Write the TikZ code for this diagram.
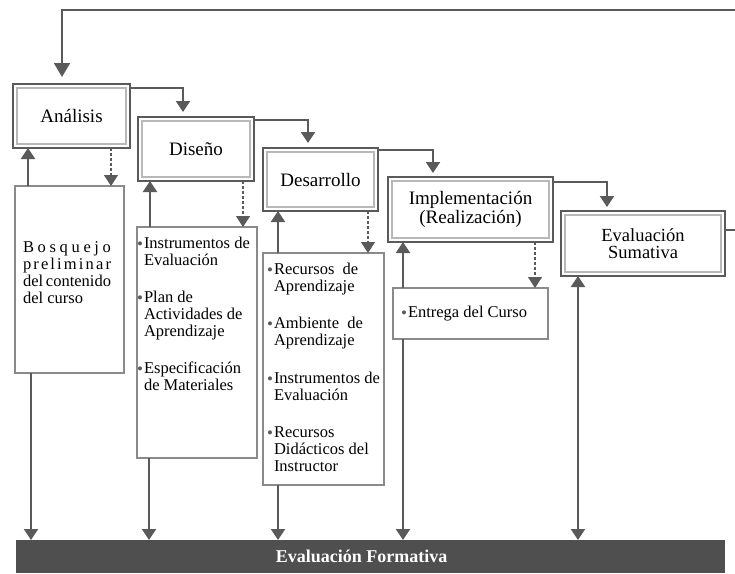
\documentclass[tikz,border=0pt]{standalone}
\usepackage{fontspec}
\setmainfont{Liberation Serif}
\usetikzlibrary{arrows.meta}
\definecolor{linegray}{HTML}{5A5A5A}
\definecolor{bargray}{HTML}{4F4F4F}
\definecolor{innergray}{HTML}{B8B8B8}
\definecolor{boxgray}{HTML}{8A8A8A}
\newcommand{\bul}{\makebox[7pt][l]{\textcolor{linegray}{\fontsize{17}{17}\selectfont\raisebox{-1.3pt}{•}}}}
\newcommand{\cont}{\hspace*{7pt}}
\begin{document}
\begin{tikzpicture}[x=1pt,y=-1pt,
    flow/.style={draw=linegray,line width=2pt},
    dots/.style={draw=linegray,line width=1.2pt,dash pattern=on 3pt off 2pt},
    tip/.style={-{Triangle[width=14pt,length=11pt]}},
    both/.style={{Triangle[width=14pt,length=11pt]}-{Triangle[width=14pt,length=11pt]}},
    stage/.style={draw=linegray,line width=2pt,fill=white,inner sep=0pt,outer sep=0pt,anchor=north west,align=center,
        font=\fontsize{19}{19}\selectfont,
        path picture={\draw[innergray,line width=1.5pt] ([shift={(4pt,-4pt)}]path picture bounding box.north west) rectangle ([shift={(-4pt,4pt)}]path picture bounding box.south east);}},
    list/.style={draw=boxgray,line width=1.2pt,fill=white,inner sep=0pt,outer sep=0pt,anchor=north west,font=\fontsize{16.5}{17}\selectfont},
    bar/.style={fill=bargray,text=white,inner sep=0pt,anchor=north west,font=\bfseries\fontsize{18}{18}\selectfont}]
    \useasboundingbox (0,0) rectangle (735,573);
    \def\t{\rule{0pt}{12pt}}
    % stages
    \node[stage,minimum width=117pt,minimum height=64pt] (ana) at (13,84) {Análisis};
    \node[stage,minimum width=116pt,minimum height=64pt] (dis) at (138,117) {Diseño};
    \node[stage,minimum width=115pt,minimum height=63pt] (des) at (263,148) {Desarrollo};
    \node[stage,minimum width=165pt,minimum height=65pt] (imp) at (388,177) {Implementación\\(Realización)};
    \node[stage,minimum width=164pt,minimum height=65pt,font=\fontsize{18.5}{17}\selectfont] (sum) at (561,211) {Evaluación\\Sumativa};
    % products
    \node[list] (bos) at (15,186) {\parbox[c][187pt][t]{109pt}{\vspace*{54pt}%
        \hspace*{8pt}\makebox[88pt][s]{\t B\hfil o\hfil s\hfil q\hfil u\hfil e\hfil j\hfil o}\\
        \hspace*{8pt}\makebox[88pt][s]{p\hfil r\hfil e\hfil l\hfil i\hfil m\hfil i\hfil n\hfil a\hfil r}\\
        \hspace*{8pt}\makebox[88pt][s]{del contenido}\\
        \hspace*{8pt}del curso}};
    \node[list] (dlist) at (137,227) {\parbox[c][231pt][t]{120pt}{\raggedright\vspace*{9pt}%
        \t\bul Instrumentos de\\ \cont Evaluación\\[20pt]
        \bul Plan de\\ \cont Actividades de\\ \cont Aprendizaje\\[20pt]
        \bul Especificación\\ \cont de Materiales}};
    \node[list] (rlist) at (263,253) {\parbox[c][232pt][t]{121pt}{\raggedright\vspace*{9pt}%
        \hspace*{4pt}\t\bul Recursos\ \ de\\ \hspace*{4pt}\cont Aprendizaje\\[20pt]
        \hspace*{4pt}\bul Ambiente\ \ de\\ \hspace*{4pt}\cont Aprendizaje\\[21pt]
        \hspace*{4pt}\bul Instrumentos de\\ \hspace*{4pt}\cont Evaluación\\[20pt]
        \hspace*{4pt}\bul Recursos\\ \hspace*{4pt}\cont Didácticos del\\ \hspace*{4pt}\cont Instructor}};
    \node[list] (ent) at (393,288) {\parbox[c][51pt][c]{155pt}{\hspace*{8pt}\bul Entrega del Curso}};
    \node[bar,minimum width=709pt,minimum height=33pt] (form) at (16,540) {\hspace*{-18pt}Evaluación Formativa};
    % sequence
    \coordinate (top) at (735,10);
    \coordinate (back) at (735,229);
    \draw[flow] ([yshift=14pt]sum.east) -- ([yshift=14pt]sum.east -| back);
    \draw[flow,-{Triangle[width=16pt,length=14pt]}] (top) -| ([shift={(-9.5pt,7pt)}]ana.north);
    \draw[flow,tip] ([yshift=-4pt]ana.north east) -| ([shift={(-13pt,5pt)}]dis.north);
    \draw[flow,tip] ([yshift=-3pt]dis.north east) -| ([shift={(-12.5pt,5pt)}]des.north);
    \draw[flow,tip] ([yshift=-2pt]des.north east) -| ([shift={(-37.5pt,4pt)}]imp.north);
    \draw[flow,tip] ([yshift=-5pt]imp.north east) -| ([shift={(-36pt,4pt)}]sum.north);
    % up, down and to the bar
    \draw[flow,tip] ([xshift=-41.5pt]bos.north) -- ([xshift=-41.5pt]bos.north |- ana.south);
    \draw[dots,tip] ([xshift=39.5pt]ana.south) -- ([xshift=39.5pt]ana.south |- bos.north);
    \draw[flow,tip] ([xshift=-38.5pt]bos.south) -- ([xshift=-38.5pt]bos.south |- form.north);
    \draw[flow,tip] ([xshift=-47pt]dlist.north) -- ([xshift=-47pt]dlist.north |- dis.south);
    \draw[dots,tip] ([xshift=47pt]dis.south) -- ([xshift=47pt]dis.south |- dlist.north);
    \draw[flow,tip] ([xshift=-48pt]dlist.south) -- ([xshift=-48pt]dlist.south |- form.north);
    \draw[flow,tip] ([xshift=-45.5pt]rlist.north) -- ([xshift=-45.5pt]rlist.north |- des.south);
    \draw[dots,tip] ([xshift=47.5pt]des.south) -- ([xshift=47.5pt]des.south |- rlist.north);
    \draw[flow,tip] ([xshift=-45.5pt]rlist.south) -- ([xshift=-45.5pt]rlist.south |- form.north);
    \draw[flow,tip] ([xshift=-67.5pt]ent.north) -- ([xshift=-67.5pt]ent.north |- imp.south);
    \draw[dots,tip] ([xshift=64.5pt]imp.south) -- ([xshift=64.5pt]imp.south |- ent.north);
    \draw[flow,tip] ([xshift=-67.5pt]ent.south) -- ([xshift=-67.5pt]ent.south |- form.north);
    \draw[flow,both] ([xshift=-65pt]sum.south) -- ([xshift=-65pt]sum.south |- form.north);
\end{tikzpicture}
\end{document}
